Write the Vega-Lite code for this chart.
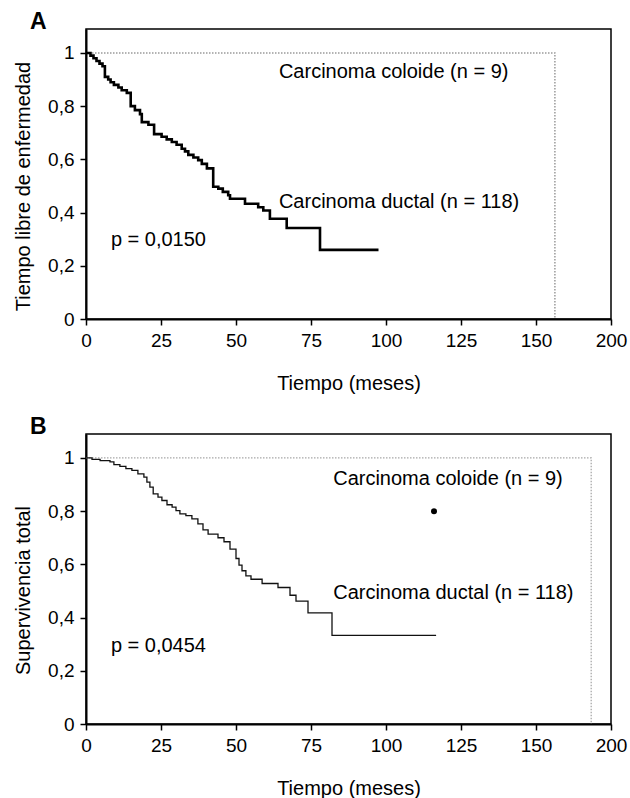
{
  "$schema": "https://vega.github.io/schema/vega-lite/v6.json",
  "padding": {"left": 12, "top": 10, "right": 2, "bottom": 0},
  "background": "white",
  "spacing": 21,
  "datasets": {
    "km": [
      {"panel": "A", "grupo": "coloide", "t": 0, "s": 1.0},
      {"panel": "A", "grupo": "coloide", "t": 156.3, "s": 0.0},
      {"panel": "A", "grupo": "ductal", "t": 0, "s": 1.0},
      {"panel": "A", "grupo": "ductal", "t": 1.5, "s": 0.99},
      {"panel": "A", "grupo": "ductal", "t": 2.5, "s": 0.98},
      {"panel": "A", "grupo": "ductal", "t": 3.5, "s": 0.97},
      {"panel": "A", "grupo": "ductal", "t": 4.5, "s": 0.96},
      {"panel": "A", "grupo": "ductal", "t": 5.5, "s": 0.95},
      {"panel": "A", "grupo": "ductal", "t": 6.3, "s": 0.91},
      {"panel": "A", "grupo": "ductal", "t": 7.4, "s": 0.9},
      {"panel": "A", "grupo": "ductal", "t": 8.2, "s": 0.89},
      {"panel": "A", "grupo": "ductal", "t": 9.3, "s": 0.88},
      {"panel": "A", "grupo": "ductal", "t": 10.8, "s": 0.87},
      {"panel": "A", "grupo": "ductal", "t": 11.9, "s": 0.86},
      {"panel": "A", "grupo": "ductal", "t": 13.6, "s": 0.85},
      {"panel": "A", "grupo": "ductal", "t": 14.9, "s": 0.8},
      {"panel": "A", "grupo": "ductal", "t": 16.3, "s": 0.785},
      {"panel": "A", "grupo": "ductal", "t": 18.0, "s": 0.77},
      {"panel": "A", "grupo": "ductal", "t": 18.6, "s": 0.74},
      {"panel": "A", "grupo": "ductal", "t": 20.8, "s": 0.73},
      {"panel": "A", "grupo": "ductal", "t": 22.7, "s": 0.695},
      {"panel": "A", "grupo": "ductal", "t": 25.2, "s": 0.685},
      {"panel": "A", "grupo": "ductal", "t": 26.9, "s": 0.675},
      {"panel": "A", "grupo": "ductal", "t": 28.6, "s": 0.665},
      {"panel": "A", "grupo": "ductal", "t": 30.2, "s": 0.655},
      {"panel": "A", "grupo": "ductal", "t": 31.9, "s": 0.64},
      {"panel": "A", "grupo": "ductal", "t": 33.0, "s": 0.63},
      {"panel": "A", "grupo": "ductal", "t": 34.1, "s": 0.617},
      {"panel": "A", "grupo": "ductal", "t": 35.8, "s": 0.607},
      {"panel": "A", "grupo": "ductal", "t": 37.4, "s": 0.597},
      {"panel": "A", "grupo": "ductal", "t": 38.6, "s": 0.583},
      {"panel": "A", "grupo": "ductal", "t": 40.3, "s": 0.566},
      {"panel": "A", "grupo": "ductal", "t": 42.4, "s": 0.497},
      {"panel": "A", "grupo": "ductal", "t": 44.1, "s": 0.49},
      {"panel": "A", "grupo": "ductal", "t": 45.6, "s": 0.478},
      {"panel": "A", "grupo": "ductal", "t": 47.4, "s": 0.465},
      {"panel": "A", "grupo": "ductal", "t": 48.0, "s": 0.452},
      {"panel": "A", "grupo": "ductal", "t": 53.0, "s": 0.433},
      {"panel": "A", "grupo": "ductal", "t": 57.4, "s": 0.42},
      {"panel": "A", "grupo": "ductal", "t": 59.1, "s": 0.408},
      {"panel": "A", "grupo": "ductal", "t": 61.3, "s": 0.377},
      {"panel": "A", "grupo": "ductal", "t": 66.9, "s": 0.342},
      {"panel": "A", "grupo": "ductal", "t": 78.0, "s": 0.26},
      {"panel": "A", "grupo": "ductal", "t": 97.5, "s": 0.26},
      {"panel": "B", "grupo": "coloide", "t": 0, "s": 1.0},
      {"panel": "B", "grupo": "coloide", "t": 168.4, "s": 0.0},
      {"panel": "B", "grupo": "ductal", "t": 0, "s": 1.0},
      {"panel": "B", "grupo": "ductal", "t": 2.0, "s": 0.995},
      {"panel": "B", "grupo": "ductal", "t": 4.7, "s": 0.99},
      {"panel": "B", "grupo": "ductal", "t": 8.0, "s": 0.985},
      {"panel": "B", "grupo": "ductal", "t": 9.3, "s": 0.975},
      {"panel": "B", "grupo": "ductal", "t": 11.3, "s": 0.968},
      {"panel": "B", "grupo": "ductal", "t": 13.3, "s": 0.96},
      {"panel": "B", "grupo": "ductal", "t": 15.3, "s": 0.953},
      {"panel": "B", "grupo": "ductal", "t": 17.3, "s": 0.94},
      {"panel": "B", "grupo": "ductal", "t": 19.3, "s": 0.928},
      {"panel": "B", "grupo": "ductal", "t": 20.3, "s": 0.909},
      {"panel": "B", "grupo": "ductal", "t": 21.3, "s": 0.89},
      {"panel": "B", "grupo": "ductal", "t": 22.4, "s": 0.865},
      {"panel": "B", "grupo": "ductal", "t": 24.0, "s": 0.853},
      {"panel": "B", "grupo": "ductal", "t": 25.3, "s": 0.84},
      {"panel": "B", "grupo": "ductal", "t": 27.0, "s": 0.824},
      {"panel": "B", "grupo": "ductal", "t": 28.7, "s": 0.815},
      {"panel": "B", "grupo": "ductal", "t": 30.0, "s": 0.802},
      {"panel": "B", "grupo": "ductal", "t": 31.3, "s": 0.79},
      {"panel": "B", "grupo": "ductal", "t": 33.3, "s": 0.783},
      {"panel": "B", "grupo": "ductal", "t": 35.3, "s": 0.771},
      {"panel": "B", "grupo": "ductal", "t": 37.3, "s": 0.752},
      {"panel": "B", "grupo": "ductal", "t": 39.0, "s": 0.73},
      {"panel": "B", "grupo": "ductal", "t": 40.7, "s": 0.714},
      {"panel": "B", "grupo": "ductal", "t": 44.0, "s": 0.7},
      {"panel": "B", "grupo": "ductal", "t": 46.0, "s": 0.685},
      {"panel": "B", "grupo": "ductal", "t": 48.0, "s": 0.657},
      {"panel": "B", "grupo": "ductal", "t": 50.0, "s": 0.622},
      {"panel": "B", "grupo": "ductal", "t": 51.0, "s": 0.597},
      {"panel": "B", "grupo": "ductal", "t": 52.0, "s": 0.576},
      {"panel": "B", "grupo": "ductal", "t": 53.3, "s": 0.557},
      {"panel": "B", "grupo": "ductal", "t": 55.0, "s": 0.544},
      {"panel": "B", "grupo": "ductal", "t": 58.7, "s": 0.528},
      {"panel": "B", "grupo": "ductal", "t": 64.0, "s": 0.513},
      {"panel": "B", "grupo": "ductal", "t": 68.0, "s": 0.484},
      {"panel": "B", "grupo": "ductal", "t": 70.0, "s": 0.462},
      {"panel": "B", "grupo": "ductal", "t": 74.0, "s": 0.418},
      {"panel": "B", "grupo": "ductal", "t": 82.0, "s": 0.333},
      {"panel": "B", "grupo": "ductal", "t": 116.7, "s": 0.333}
    ],
    "labels": [
      {"panel": "A", "text": "Carcinoma coloide (n = 9)", "t": 64.3, "s": 0.927},
      {"panel": "A", "text": "Carcinoma ductal (n = 118)", "t": 64.3, "s": 0.44},
      {"panel": "A", "text": "p = 0,0150", "t": 8.3, "s": 0.296},
      {"panel": "B", "text": "Carcinoma coloide (n = 9)", "t": 82.4, "s": 0.922},
      {"panel": "B", "text": "Carcinoma ductal (n = 118)", "t": 82.4, "s": 0.494},
      {"panel": "B", "text": "p = 0,0454", "t": 8.3, "s": 0.292}
    ],
    "puntos": [
      {"panel": "B", "t": 116, "s": 0.8}
    ]
  },
  "vconcat": [
    {
      "title": {"text": "A"},
      "width": 525,
      "height": 290,
      "layer": [
        {
          "data": {"name": "km"},
          "transform": [{"filter": "datum.panel === 'A' && datum.grupo === 'coloide'"}],
          "mark": {"type": "line", "interpolate": "step-after", "color": "#9a9a9a", "strokeWidth": 1.5, "strokeDash": [1.5, 1.5]},
          "encoding": {
            "x": {"field": "t", "type": "quantitative", "scale": {"domain": [0, 175], "nice": false},
                  "axis": {"title": "Tiempo (meses)", "values": [0, 25, 50, 75, 100, 125, 150, 175], "labelExpr": "datum.value == 175 ? '200' : datum.label"}},
            "y": {"field": "s", "type": "quantitative", "scale": {"domain": [0, 1.09], "nice": false},
                  "axis": {"title": "Tiempo libre de enfermedad", "titleY": 157, "values": [0, 0.2, 0.4, 0.6, 0.8, 1], "labelExpr": "datum.value == 0 ? '0' : datum.value == 1 ? '1' : replace(format(datum.value, '.1f'), '.', ',')"}}
          }
        },
        {
          "data": {"name": "km"},
          "transform": [{"filter": "datum.panel === 'A' && datum.grupo === 'ductal'"}],
          "mark": {"type": "line", "interpolate": "step-after", "color": "black", "strokeWidth": 2.6},
          "encoding": {
            "x": {"field": "t", "type": "quantitative"},
            "y": {"field": "s", "type": "quantitative"}
          }
        },
        {
          "data": {"name": "labels"},
          "transform": [{"filter": "datum.panel === 'A'"}],
          "mark": {"type": "text", "align": "left", "baseline": "middle", "fontSize": 20, "color": "black"},
          "encoding": {
            "x": {"field": "t", "type": "quantitative"},
            "y": {"field": "s", "type": "quantitative"},
            "text": {"field": "text"}
          }
        }
      ]
    },
    {
      "title": {"text": "B"},
      "width": 525,
      "height": 290,
      "layer": [
        {
          "data": {"name": "km"},
          "transform": [{"filter": "datum.panel === 'B' && datum.grupo === 'coloide'"}],
          "mark": {"type": "line", "interpolate": "step-after", "color": "#a8a8a8", "strokeWidth": 1.3, "strokeDash": [1.5, 1.5]},
          "encoding": {
            "x": {"field": "t", "type": "quantitative", "scale": {"domain": [0, 175], "nice": false},
                  "axis": {"title": "Tiempo (meses)", "values": [0, 25, 50, 75, 100, 125, 150, 175], "labelExpr": "datum.value == 175 ? '200' : datum.label"}},
            "y": {"field": "s", "type": "quantitative", "scale": {"domain": [0, 1.09], "nice": false},
                  "axis": {"title": "Supervivencia total", "titleY": 156, "values": [0, 0.2, 0.4, 0.6, 0.8, 1], "labelExpr": "datum.value == 0 ? '0' : datum.value == 1 ? '1' : replace(format(datum.value, '.1f'), '.', ',')"}}
          }
        },
        {
          "data": {"name": "km"},
          "transform": [{"filter": "datum.panel === 'B' && datum.grupo === 'ductal'"}],
          "mark": {"type": "line", "interpolate": "step-after", "color": "#111", "strokeWidth": 1.3},
          "encoding": {
            "x": {"field": "t", "type": "quantitative"},
            "y": {"field": "s", "type": "quantitative"}
          }
        },
        {
          "data": {"name": "puntos"},
          "mark": {"type": "circle", "color": "black", "opacity": 1, "size": 36},
          "encoding": {
            "x": {"field": "t", "type": "quantitative"},
            "y": {"field": "s", "type": "quantitative"}
          }
        },
        {
          "data": {"name": "labels"},
          "transform": [{"filter": "datum.panel === 'B'"}],
          "mark": {"type": "text", "align": "left", "baseline": "middle", "fontSize": 20, "color": "black"},
          "encoding": {
            "x": {"field": "t", "type": "quantitative"},
            "y": {"field": "s", "type": "quantitative"},
            "text": {"field": "text"}
          }
        }
      ]
    }
  ],
  "config": {
    "font": "Liberation Sans",
    "view": {"stroke": "black", "strokeWidth": 1.5},
    "axis": {
      "grid": false,
      "domainColor": "black",
      "domainWidth": 2,
      "tickColor": "black",
      "tickWidth": 1.5,
      "tickSize": 6,
      "labelPadding": 6,
      "labelFont": "Liberation Sans",
      "labelFontSize": 19,
      "labelColor": "black",
      "titleFont": "Liberation Sans",
      "titleFontSize": 20,
      "titleFontWeight": "normal",
      "titleColor": "black"
    },
    "axisX": {"titlePadding": 23, "labelFlush": false},
    "axisY": {"titlePadding": 14, "labelFlush": false},
    "title": {
      "font": "Liberation Sans",
      "fontSize": 23,
      "fontWeight": "bold",
      "color": "black",
      "anchor": "start",
      "frame": "group",
      "dx": -56,
      "offset": -5,
      "baseline": "alphabetic"
    }
  }
}
